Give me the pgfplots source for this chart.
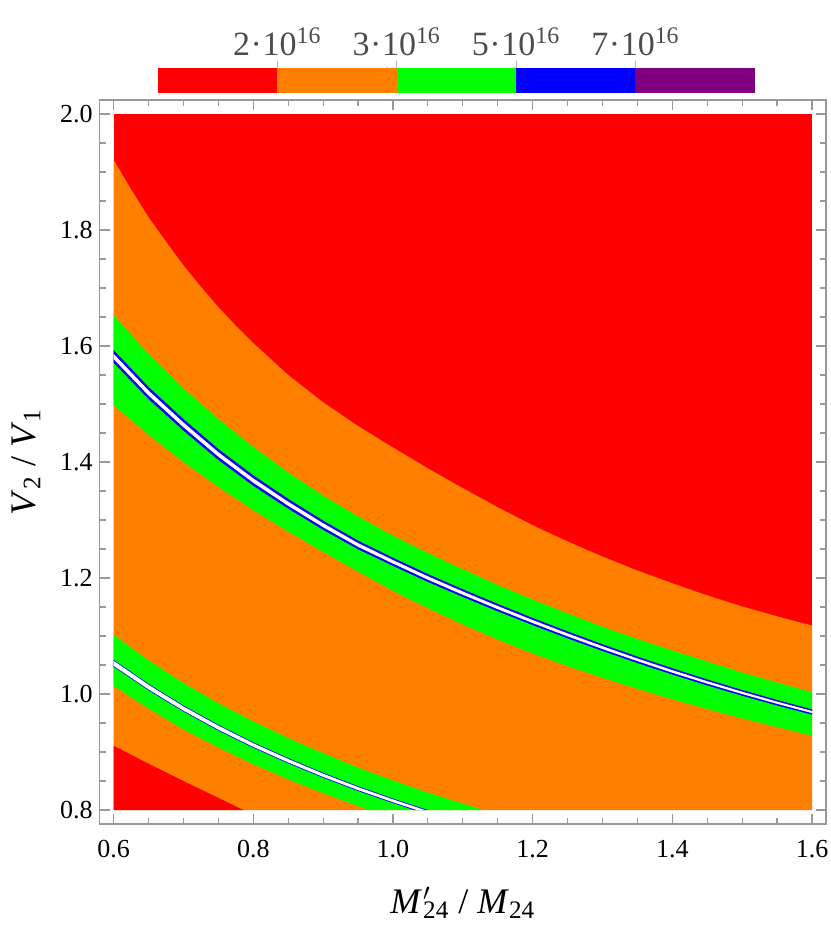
\documentclass[border=0pt]{standalone}
\usepackage{fontspec}
\setmainfont{Liberation Serif}
\usepackage{pgfplots}
\pgfplotsset{compat=1.18}
\definecolor{cRed}{RGB}{255,0,0}
\definecolor{cOrange}{RGB}{255,128,0}
\definecolor{cGreen}{RGB}{0,255,0}
\definecolor{cBlue}{RGB}{0,0,255}
\definecolor{cPurple}{RGB}{128,0,128}
\definecolor{frameGray}{gray}{0.6}
\newcommand{\cbl}[1]{#1\kern0.3pt·\kern0.3pt10\textsuperscript{16}}
\begin{document}
\begin{tikzpicture}
\useasboundingbox (-49.8pt,-51pt) rectangle (365.2pt,411.9pt);
\begin{axis}[
  at={(0pt,0pt)}, anchor=south west,
  scale only axis, width=363.1pt, height=361.9pt,
  xmin=0.58, xmax=1.62, ymin=0.776, ymax=2.024,
  xtick={0.6,0.8,1.0,1.2,1.4,1.6}, xticklabels={0.6,0.8,1.0,1.2,1.4,1.6},
  ytick={0.8,1.0,1.2,1.4,1.6,1.8,2.0}, yticklabels={0.8,1.0,1.2,1.4,1.6,1.8,2.0},
  minor x tick num=3, minor y tick num=3,
  major tick length=5pt, minor tick length=3pt,
  tick align=inside,
  axis line style={frameGray, line width=0.6pt},
  tick style={frameGray, line width=0.6pt},
  tick label style={font=\fontsize{13}{15}\selectfont},
  xticklabel style={yshift=-4.5pt},
  xlabel={\textit{M}\kern0.6pt\rlap{$'$}\textsubscript{24} / \textit{M}\textsubscript{24}},
  ylabel={\textit{V}\textsubscript{2} / \textit{V}\textsubscript{1}},
  xlabel style={at={(axis description cs:0.5,-0.109)},anchor=center,font=\fontsize{18}{21}\selectfont},
  ylabel style={at={(axis description cs:-0.1013,0.5)},anchor=center,font=\fontsize{18}{21}\selectfont},
]
% background (red)
\addplot[fill=cRed, draw=none] coordinates {(0.6,0.8)(1.6,0.8)(1.6,2.0)(0.6,2.0)};
% orange below the upper red region
\addplot[fill=cOrange, draw=none] coordinates {(0.6,0.8)(0.600,1.921)(0.625,1.870)(0.650,1.822)(0.675,1.780)(0.700,1.739)(0.725,1.702)(0.750,1.667)(0.775,1.635)(0.80,1.605)(0.85,1.550)(0.90,1.503)(0.95,1.462)(1.00,1.425)(1.05,1.389)(1.10,1.355)(1.15,1.322)(1.20,1.291)(1.25,1.263)(1.30,1.237)(1.35,1.213)(1.40,1.191)(1.45,1.170)(1.50,1.151)(1.55,1.134)(1.60,1.118)(1.6,0.8)};
% lower-left red corner
\addplot[fill=cRed, draw=none] coordinates {(0.6,0.8)(0.6,0.911)(0.65,0.880)(0.70,0.850)(0.75,0.821)(0.786,0.8)};
% upper green band
\addplot[fill=cGreen, draw=none] coordinates {(0.60,1.653)(0.65,1.586)(0.70,1.527)(0.75,1.474)(0.80,1.426)(0.85,1.382)(0.90,1.342)(0.95,1.306)(1.00,1.273)(1.05,1.243)(1.10,1.215)(1.15,1.188)(1.20,1.163)(1.25,1.139)(1.30,1.116)(1.35,1.095)(1.40,1.075)(1.45,1.056)(1.50,1.037)(1.55,1.020)(1.60,1.003)
 (1.60,0.928)(1.55,0.943)(1.50,0.958)(1.45,0.974)(1.40,0.991)(1.35,1.009)(1.30,1.028)(1.25,1.048)(1.20,1.070)(1.15,1.094)(1.10,1.120)(1.05,1.148)(1.00,1.178)(0.95,1.211)(0.90,1.245)(0.85,1.280)(0.80,1.317)(0.75,1.357)(0.70,1.400)(0.65,1.447)(0.60,1.498)};
% upper blue band
\addplot[fill=cBlue, draw=none] coordinates {(0.60,1.5930)(0.65,1.5295)(0.70,1.4740)(0.75,1.4225)(0.80,1.3770)(0.85,1.3365)(0.90,1.2990)(0.95,1.2645)(1.00,1.2350)(1.05,1.2068)(1.10,1.1806)(1.15,1.1554)(1.20,1.1312)(1.25,1.1080)(1.30,1.0858)(1.35,1.0646)(1.40,1.0444)(1.45,1.0252)(1.50,1.0070)(1.55,0.9898)(1.60,0.9736)
 (1.60,0.9644)(1.55,0.9802)(1.50,0.9970)(1.45,1.0148)(1.40,1.0336)(1.35,1.0534)(1.30,1.0742)(1.25,1.0960)(1.20,1.1188)(1.15,1.1426)(1.10,1.1674)(1.05,1.1932)(1.00,1.2210)(0.95,1.2495)(0.90,1.2830)(0.85,1.3195)(0.80,1.3590)(0.75,1.4035)(0.70,1.4540)(0.65,1.5085)(0.60,1.5710)};
% upper white core
\addplot[fill=white, draw=none] coordinates {(0.60,1.5865)(0.65,1.5233)(0.70,1.4681)(0.75,1.4169)(0.80,1.3717)(0.85,1.3315)(0.90,1.2944)(0.95,1.2602)(1.00,1.2310)(1.05,1.2029)(1.10,1.1768)(1.15,1.1517)(1.20,1.1276)(1.25,1.1045)(1.30,1.0824)(1.35,1.0613)(1.40,1.0412)(1.45,1.0221)(1.50,1.0040)(1.55,0.9869)(1.60,0.9708)
 (1.60,0.9672)(1.55,0.9831)(1.50,1.0000)(1.45,1.0179)(1.40,1.0368)(1.35,1.0567)(1.30,1.0776)(1.25,1.0995)(1.20,1.1224)(1.15,1.1463)(1.10,1.1712)(1.05,1.1971)(1.00,1.2250)(0.95,1.2538)(0.90,1.2876)(0.85,1.3245)(0.80,1.3643)(0.75,1.4091)(0.70,1.4599)(0.65,1.5147)(0.60,1.5775)};
% lower green band
\addplot[fill=cGreen, draw=none] coordinates {(0.60,1.102)(0.65,1.058)(0.70,1.019)(0.75,0.984)(0.80,0.953)(0.85,0.924)(0.90,0.898)(0.95,0.873)(1.00,0.851)(1.05,0.830)(1.10,0.811)(1.13,0.800)(0.967,0.800)(0.95,0.807)(0.90,0.829)(0.85,0.853)(0.80,0.879)(0.75,0.908)(0.70,0.939)(0.65,0.975)(0.60,1.014)};
% lower blue
\addplot[fill=cBlue, draw=none] coordinates {(0.60,1.0588)(0.65,1.0175)(0.70,0.9802)(0.75,0.9470)(0.80,0.9167)(0.85,0.8895)(0.90,0.8643)(0.95,0.8411)(1.00,0.8199)(1.050,0.8)(1.030,0.8)(1.00,0.8121)(0.95,0.8329)(0.90,0.8557)(0.85,0.8805)(0.80,0.9073)(0.75,0.9370)(0.70,0.9698)(0.65,1.0065)(0.60,1.0472)};
% lower white
\addplot[fill=white, draw=none] coordinates {(0.60,1.0573)(0.65,1.0160)(0.70,0.9787)(0.75,0.9455)(0.80,0.9152)(0.85,0.8880)(0.90,0.8628)(0.95,0.8396)(1.00,0.8184)(1.046,0.8)(1.034,0.8)(1.00,0.8136)(0.95,0.8344)(0.90,0.8572)(0.85,0.8820)(0.80,0.9088)(0.75,0.9385)(0.70,0.9713)(0.65,1.0080)(0.60,1.0487)};
\end{axis}
% colour bar
\begin{axis}[
  at={(29.15pt,365.25pt)}, anchor=south west,
  scale only axis, width=298.4pt, height=12.5pt,
  xmin=0, xmax=5, ymin=0, ymax=1,
  axis line style={draw=none},
  ytick=\empty,
  xtick={1,2,3,4},
  xticklabels={\cbl{2},\cbl{3},\cbl{5},\cbl{7}},
  xtick pos=right, xticklabel pos=right,
  tick align=outside, major tick length=3.5pt,
  tick style={gray!60, line width=0.5pt},
  tick label style={font=\fontsize{17}{20}\selectfont, text=black!70, yshift=-1pt},
]
\addplot[fill=cRed, draw=none] coordinates {(0,0)(1,0)(1,1)(0,1)};
\addplot[fill=cOrange, draw=none] coordinates {(1,0)(2,0)(2,1)(1,1)};
\addplot[fill=cGreen, draw=none] coordinates {(2,0)(3,0)(3,1)(2,1)};
\addplot[fill=cBlue, draw=none] coordinates {(3,0)(4,0)(4,1)(3,1)};
\addplot[fill=cPurple, draw=none] coordinates {(4,0)(5,0)(5,1)(4,1)};
\end{axis}
\end{tikzpicture}
\end{document}
